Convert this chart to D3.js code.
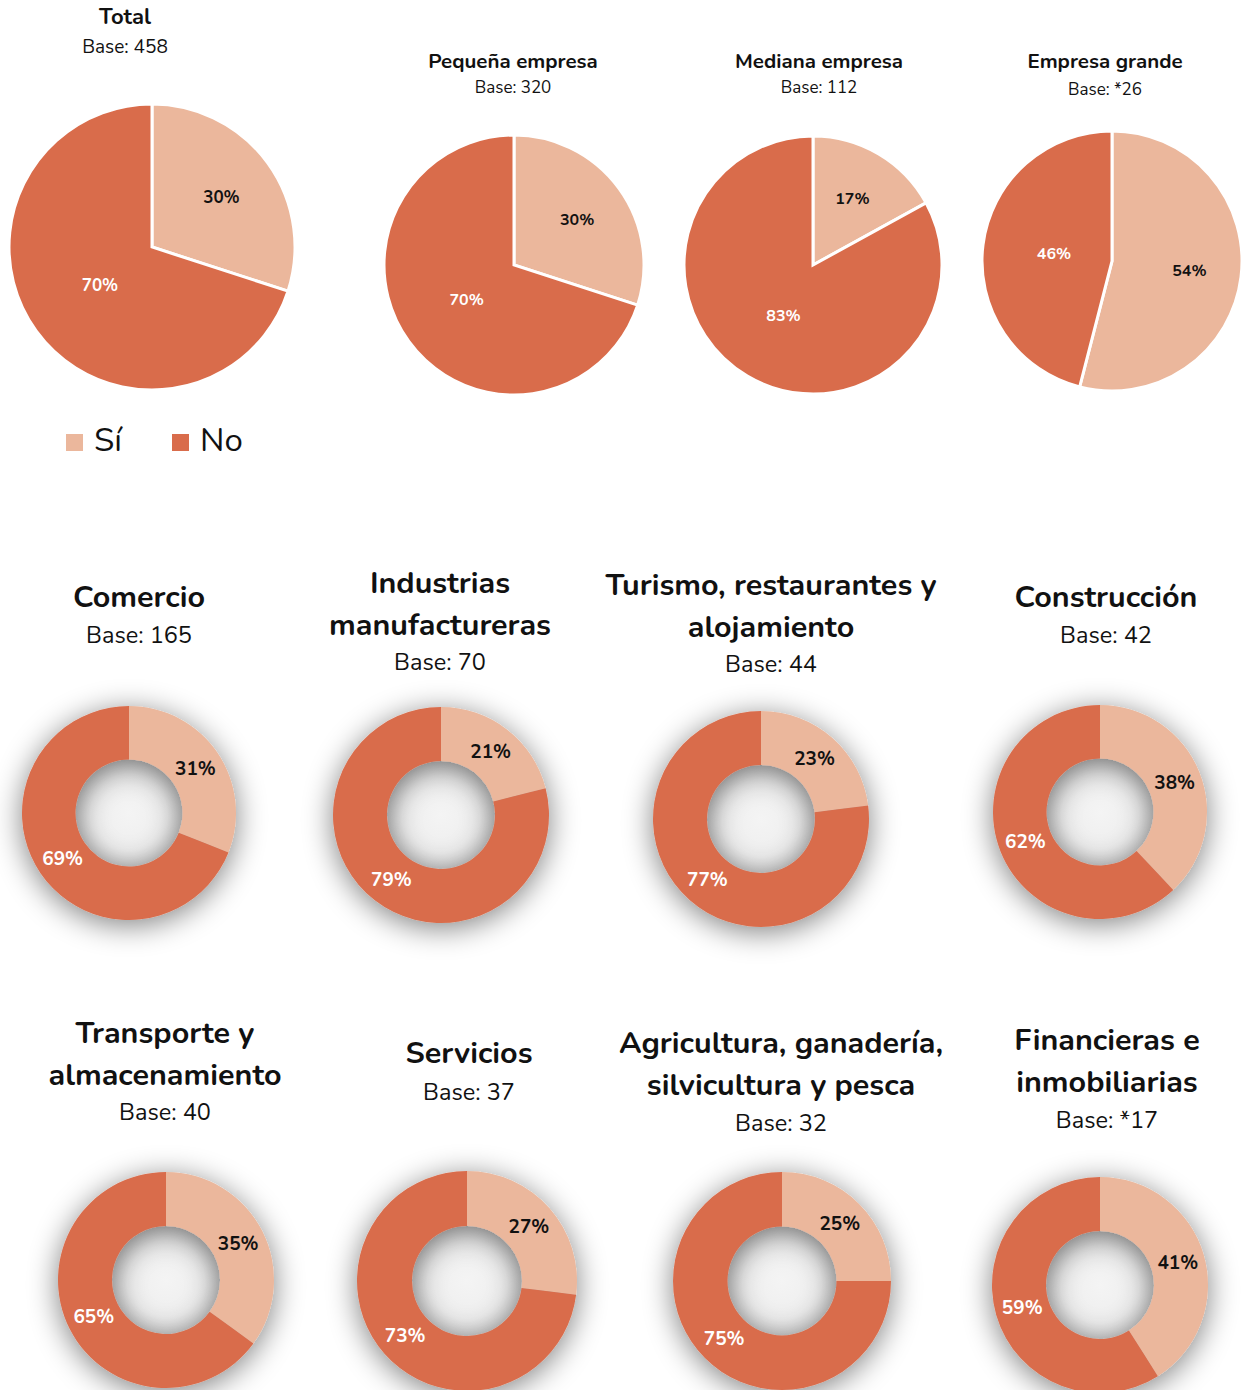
<!DOCTYPE html>
<html>
<head>
<meta charset="utf-8">
<script src="https://cdn.jsdelivr.net/npm/d3@7"></script>
<style>
  body { margin: 0; background: #fff; }
  svg { display: block; font-family: "Nunito", "Lato", sans-serif; }
</style>
</head>
<body>
<div id="chart"></div>
<script>
// datos
var tamanoTitulos = ["Total", "Pequeña empresa", "Mediana empresa", "Empresa grande"];
var tamanoBases = ["Base: 458", "Base: 320", "Base: 112", "Base: *26"];
var tamanoSi = [30, 30, 17, 54];
var tamanoNo = [70, 70, 83, 46];

var sectorTitulos = [
  ["Comercio"],
  ["Industrias", "manufactureras"],
  ["Turismo, restaurantes y", "alojamiento"],
  ["Construcción"],
  ["Transporte y", "almacenamiento"],
  ["Servicios"],
  ["Agricultura, ganadería,", "silvicultura y pesca"],
  ["Financieras e", "inmobiliarias"]
];
var sectorBases = ["Base: 165", "Base: 70", "Base: 44", "Base: 42", "Base: 40", "Base: 37", "Base: 32", "Base: *17"];
var sectorSi = [31, 21, 23, 38, 35, 27, 25, 41];
var sectorNo = [69, 79, 77, 62, 65, 73, 75, 59];

var leyenda = ["Sí", "No"];

var W = 1242, H = 1390;
var colSi = "#ebb79c", colNo = "#d96c4b";
var color = d3.scaleOrdinal().domain(leyenda).range([colSi, colNo]);

var svg = d3.select("#chart").append("svg")
    .attr("width", W)
    .attr("height", H);

// sombra de las donas
var defs = svg.append("defs");
var f = defs.append("filter").attr("id", "sombra")
    .attr("x", "-60%").attr("y", "-60%").attr("width", "220%").attr("height", "220%");
f.append("feGaussianBlur").attr("in", "SourceAlpha").attr("stdDeviation", 15).attr("result", "b");
f.append("feOffset").attr("in", "b").attr("dx", 0).attr("dy", 5).attr("result", "o");
f.append("feComponentTransfer").attr("in", "o").attr("result", "t")
  .append("feFuncA").attr("type", "linear").attr("slope", 0.5);
var fm = f.append("feMerge");
fm.append("feMergeNode").attr("in", "t");
fm.append("feMergeNode").attr("in", "SourceGraphic");

// hueco sombreado
var rg = defs.append("radialGradient").attr("id", "hueco");
rg.append("stop").attr("offset", "0%").attr("stop-color", "#f4f4f4");
rg.append("stop").attr("offset", "70%").attr("stop-color", "#eeeeee");
rg.append("stop").attr("offset", "100%").attr("stop-color", "#e0e0e0");

var pie = d3.pie().sort(null).value(function(d) { return d.v; });

function datos(si, no) {
  return [{k: "Sí", v: si}, {k: "No", v: no}];
}

// fila superior: pays por tamaño
var topLayout = [
  {cx: 152, cy: 247, r: 143, tx: 125, ty1: 24, ty2: 53, f1: 22, f2: 19, fl: 17},
  {cx: 514, cy: 265, r: 130, tx: 513, ty1: 68, ty2: 93, f1: 20.5, f2: 17, fl: 16},
  {cx: 813, cy: 265, r: 129, tx: 819, ty1: 68, ty2: 93, f1: 20.5, f2: 17, fl: 16},
  {cx: 1112, cy: 261, r: 130, tx: 1105, ty1: 68, ty2: 95, f1: 20.5, f2: 17, fl: 16}
];

tamanoTitulos.forEach(function(t, i) {
  var L = topLayout[i];
  svg.append("text").attr("x", L.tx).attr("y", L.ty1)
      .attr("text-anchor", "middle").style("font-size", L.f1 + "px")
      .style("font-weight", "bold").attr("fill", "#111").text(t);
  svg.append("text").attr("x", L.tx).attr("y", L.ty2)
      .attr("text-anchor", "middle").style("font-size", L.f2 + "px")
      .attr("fill", "#111").text(tamanoBases[i]);

  var g = svg.append("g").attr("transform", "translate(" + L.cx + "," + L.cy + ")");
  var arc = d3.arc().innerRadius(0).outerRadius(L.r);
  var arcs = pie(datos(tamanoSi[i], tamanoNo[i]));
  g.selectAll("path").data(arcs).enter().append("path")
      .attr("d", arc)
      .attr("fill", function(d) { return color(d.data.k); })
      .attr("stroke", "#fff")
      .attr("stroke-width", 3);
  g.selectAll("text").data(arcs).enter().append("text")
      .attr("transform", function(d) {
        var rr = d.data.k == "Sí" ? L.r * 0.6 : L.r * 0.45;
        var la = d3.arc().innerRadius(rr).outerRadius(rr);
        return "translate(" + la.centroid(d) + ")";
      })
      .attr("text-anchor", "middle")
      .attr("dy", "0.35em")
      .style("font-size", L.fl + "px")
      .style("font-weight", "bold")
      .attr("fill", function(d) { return d.data.k == "Sí" ? "#111" : "#fff"; })
      .text(function(d) { return d.data.v + "%"; });
});

// leyenda
leyenda.forEach(function(k, i) {
  var x0 = 66 + i * 106;
  svg.append("rect").attr("x", x0).attr("y", 434).attr("width", 17).attr("height", 17)
      .attr("fill", color(k));
  svg.append("text").attr("x", x0 + 28).attr("y", 451)
      .style("font-size", "33px").attr("fill", "#111").text(k);
});

// donas por sector
var secLayout = [
  {cx: 129, cy: 813, r: 107, tx: 139, ty: 607, by: 643},
  {cx: 441, cy: 815, r: 108, tx: 440, ty: 593, by: 670},
  {cx: 761, cy: 819, r: 108, tx: 771, ty: 595, by: 672},
  {cx: 1100, cy: 812, r: 107, tx: 1106, ty: 607, by: 643},
  {cx: 166, cy: 1280, r: 108, tx: 165, ty: 1043, by: 1120},
  {cx: 467, cy: 1281, r: 110, tx: 469, ty: 1063, by: 1100},
  {cx: 782, cy: 1281, r: 109, tx: 781, ty: 1053, by: 1131},
  {cx: 1100, cy: 1285, r: 108, tx: 1107, ty: 1050, by: 1128}
];

sectorTitulos.forEach(function(lineas, i) {
  var L = secLayout[i];
  lineas.forEach(function(l, j) {
    svg.append("text").attr("x", L.tx).attr("y", L.ty + j * 42)
        .attr("text-anchor", "middle").style("font-size", "30.5px")
        .style("font-weight", "bold").attr("fill", "#111").text(l);
  });
  svg.append("text").attr("x", L.tx).attr("y", L.by)
      .attr("text-anchor", "middle").style("font-size", "23.5px")
      .attr("fill", "#111").text(sectorBases[i]);

  var g = svg.append("g").attr("transform", "translate(" + L.cx + "," + L.cy + ")");
  var inner = L.r * 0.5;
  g.append("circle").attr("r", inner + 1).attr("fill", "url(#hueco)");
  var arc = d3.arc().innerRadius(inner).outerRadius(L.r);
  var arcs = pie(datos(sectorSi[i], sectorNo[i]));
  g.append("g").attr("filter", "url(#sombra)")
    .selectAll("path").data(arcs).enter().append("path")
      .attr("d", arc)
      .attr("fill", function(d) { return color(d.data.k); });
  g.selectAll("text").data(arcs).enter().append("text")
      .attr("transform", function(d) { return "translate(" + arc.centroid(d) + ")"; })
      .attr("text-anchor", "middle")
      .attr("dy", "0.35em")
      .style("font-size", "19px")
      .style("font-weight", "bold")
      .attr("fill", function(d) { return d.data.k == "Sí" ? "#111" : "#fff"; })
      .text(function(d) { return d.data.v + "%"; });
});
</script>
</body>
</html>
